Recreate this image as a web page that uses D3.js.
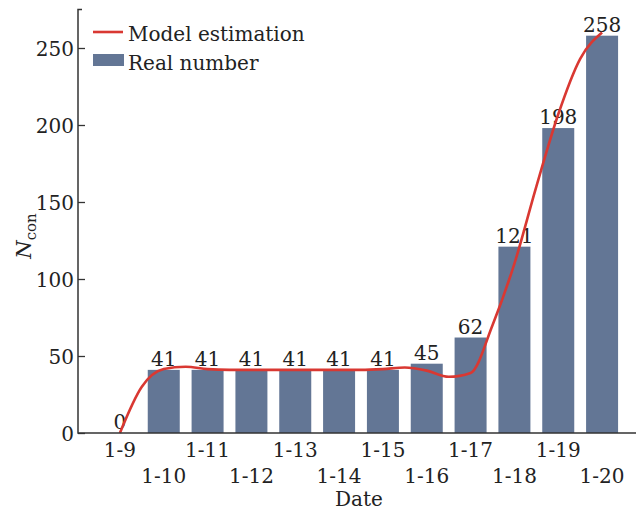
<!DOCTYPE html>
<html>
<head>
<meta charset="utf-8">
<script src="https://cdn.jsdelivr.net/npm/d3@7"></script>
<style>
  body { margin: 0; background: #fff; }
  text { font-family: "DejaVu Serif", serif; fill: #222; }
</style>
</head>
<body>
<div id="chart"></div>
<script>
// dates on the x axis
var dates = ["1-9", "1-10", "1-11", "1-12", "1-13", "1-14",
             "1-15", "1-16", "1-17", "1-18", "1-19", "1-20"];

// real number of confirmed cases (bars)
var realNumber = [0, 41, 41, 41, 41, 41, 41, 45, 62, 121, 198, 258];

// model estimation, every half day
var modelDay = [0, 0.5, 1, 1.5, 2, 2.5, 3, 3.5, 4, 4.5, 5, 5.5,
                6, 6.5, 7, 7.5, 8, 8.5, 9, 9.5, 10, 10.5, 11];
var modelValue = [0, 30, 41.5, 43, 41.5, 41, 41, 41, 41, 41, 41, 41,
                  41.5, 42.5, 40.5, 36.5, 39, 70, 110, 160, 207, 243, 260];

var yTicks = [0, 50, 100, 150, 200, 250];

var width = 636, height = 513;
var axisLeftX = 78, axisBottomY = 433, axisTopY = 9.5;

var barColor = "#637695";
var lineColor = "#d93832";
var axisColor = "#333";

var svg = d3.select("#chart")
  .append("svg")
  .attr("width", width)
  .attr("height", height);

var x = d3.scaleBand()
  .domain(dates)
  .range([98, 624])
  .paddingInner(0.27)
  .paddingOuter(0.135);

var y = d3.scaleLinear()
  .domain([0, 275])
  .range([axisBottomY, axisTopY]);

// day index -> centre of the band
var xDay = d3.scaleLinear()
  .domain([0, dates.length - 1])
  .range([x(dates[0]) + x.bandwidth() / 2,
          x(dates[dates.length - 1]) + x.bandwidth() / 2]);

// bars
svg.append("g")
  .selectAll("rect")
  .data(realNumber)
  .enter()
  .append("rect")
  .attr("x", function(d, i) { return x(dates[i]); })
  .attr("y", function(d) { return y(d); })
  .attr("width", x.bandwidth())
  .attr("height", function(d) { return axisBottomY - y(d); })
  .style("fill", barColor);

// bar value labels
svg.append("g")
  .selectAll("text")
  .data(realNumber)
  .enter()
  .append("text")
  .attr("x", function(d, i) { return x(dates[i]) + x.bandwidth() / 2; })
  .attr("y", function(d) { return y(d) - 4; })
  .attr("text-anchor", "middle")
  .style("font-size", "20px")
  .text(function(d) { return d; });

// model curve
var line = d3.line()
  .x(function(d, i) { return xDay(modelDay[i]); })
  .y(function(d) { return y(d); })
  .curve(d3.curveMonotoneX);

svg.append("path")
  .datum(modelValue)
  .attr("d", line)
  .style("fill", "none")
  .style("stroke", lineColor)
  .style("stroke-width", 2.6);

// y axis, ticks pointing inwards
var yAxis = svg.append("g")
  .attr("transform", "translate(" + axisLeftX + ",0)")
  .call(d3.axisLeft(y)
    .tickValues(yTicks)
    .tickSizeInner(-7)
    .tickSizeOuter(0)
    .tickPadding(4));

yAxis.select(".domain").remove();
yAxis.selectAll(".tick line").style("stroke", axisColor).style("stroke-width", 1.3);
yAxis.selectAll(".tick text")
  .style("font-size", "20px")
  .style("font-family", "DejaVu Serif, serif")
  .attr("fill", "#222")
  .attr("dy", "0.36em");

// axis lines
svg.append("path")
  .attr("d", "M" + (axisLeftX + 4) + "," + axisTopY + "H" + axisLeftX +
             "V" + axisBottomY + "H" + width)
  .style("fill", "none")
  .style("stroke", axisColor)
  .style("stroke-width", 1.5);

// x axis labels, staggered on two rows
var xAxis = svg.append("g")
  .attr("transform", "translate(0," + axisBottomY + ")")
  .call(d3.axisBottom(x).tickSize(0).tickPadding(0));

xAxis.select(".domain").remove();
xAxis.selectAll(".tick text")
  .style("font-size", "20px")
  .style("font-family", "DejaVu Serif, serif")
  .attr("fill", "#222")
  .attr("dy", null)
  .attr("y", function(d, i) { return i % 2 === 0 ? 24 : 50; });

// axis titles
svg.append("text")
  .attr("x", 359)
  .attr("y", 506)
  .attr("text-anchor", "middle")
  .style("font-size", "20px")
  .text("Date");

var yTitle = svg.append("text")
  .attr("transform", "translate(31,236) rotate(-90)")
  .attr("text-anchor", "middle")
  .style("font-size", "21px");
yTitle.append("tspan").style("font-style", "italic").text("N");
yTitle.append("tspan").attr("dy", 5).style("font-size", "15px").text("con");

// legend
var legend = svg.append("g");
legend.append("line")
  .attr("x1", 93).attr("x2", 123)
  .attr("y1", 32).attr("y2", 32)
  .style("stroke", lineColor)
  .style("stroke-width", 2.6);
legend.append("rect")
  .attr("x", 93).attr("y", 54)
  .attr("width", 31).attr("height", 12)
  .style("fill", barColor);
legend.append("text")
  .attr("x", 128).attr("y", 41)
  .style("font-size", "20px")
  .text("Model estimation");
legend.append("text")
  .attr("x", 128).attr("y", 70)
  .style("font-size", "20px")
  .text("Real number");
</script>
</body>
</html>
